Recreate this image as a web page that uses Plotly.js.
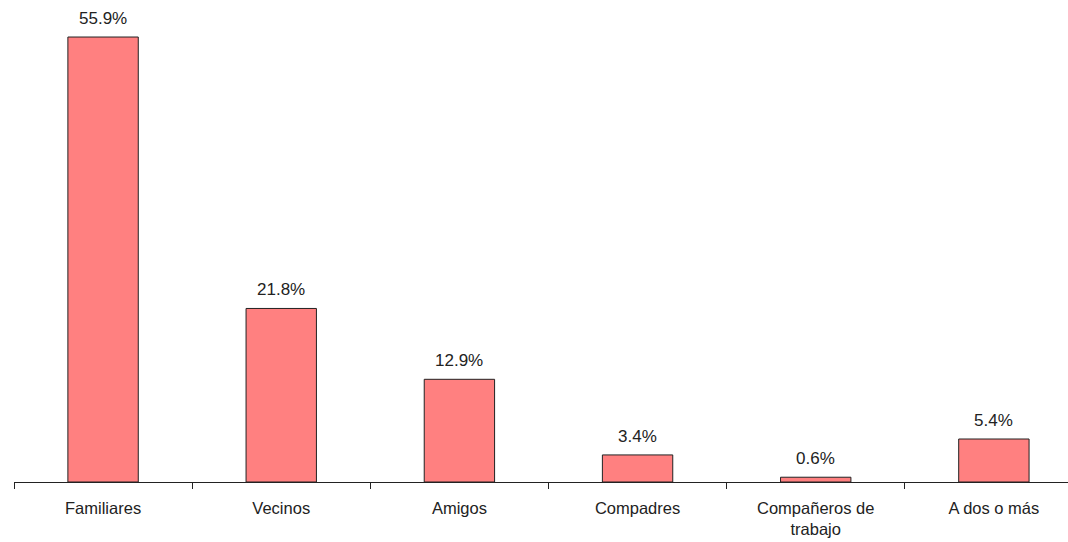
<!DOCTYPE html>
<html>
<head>
<meta charset="utf-8">
<script src="https://cdn.plot.ly/plotly-3.0.1.min.js"></script>
<style>html,body{margin:0;padding:0;overflow:hidden;background:#fff}</style>
</head>
<body>
<div id="chart" style="width:1068px;height:542px"></div>
<script>
const categories = ["Familiares", "Vecinos", "Amigos", "Compadres", "Compañeros de<br>trabajo", "A dos o más"];
const values = [55.9, 21.8, 12.9, 3.4, 0.6, 5.4];
const labels = ["55.9%", "21.8%", "12.9%", "3.4%", "0.6%", "5.4%"];

const fontFam = "Liberation Sans, Arial, sans-serif";
const annotations = categories.map((c, i) => ({
  x: c, y: values[i], xref: "x", yref: "y",
  text: labels[i], showarrow: false,
  yanchor: "bottom", xanchor: "center", yshift: 7,
  font: {family: fontFam, size: 17, color: "#222"}
}));

Plotly.newPlot("chart", [{
  type: "bar",
  x: categories,
  y: values,
  marker: {color: "#FF8080", line: {color: "#222", width: 1}},
  width: 0.395,
  hoverinfo: "none"
}], {
  width: 1068, height: 542,
  margin: {l: 13.5, r: 0, t: 0, b: 60},
  paper_bgcolor: "#fff", plot_bgcolor: "#fff",
  showlegend: false,
  font: {family: fontFam, color: "#222"},
  annotations: annotations,
  xaxis: {
    type: "category",
    range: [-0.5, 5.416],
    showline: true, linecolor: "#222", linewidth: 1,
    ticks: "outside", tickson: "boundaries", ticklen: 6, tickcolor: "#222",
    tickfont: {size: 16.5, color: "#222"},
    ticklabelstandoff: 11,
    showgrid: false, zeroline: false, fixedrange: true
  },
  yaxis: {
    range: [0, 60.55],
    visible: false, showgrid: false, zeroline: false, fixedrange: true
  },
  bargap: 0.6
}, {displayModeBar: false, staticPlot: true});
</script>
</body>
</html>
